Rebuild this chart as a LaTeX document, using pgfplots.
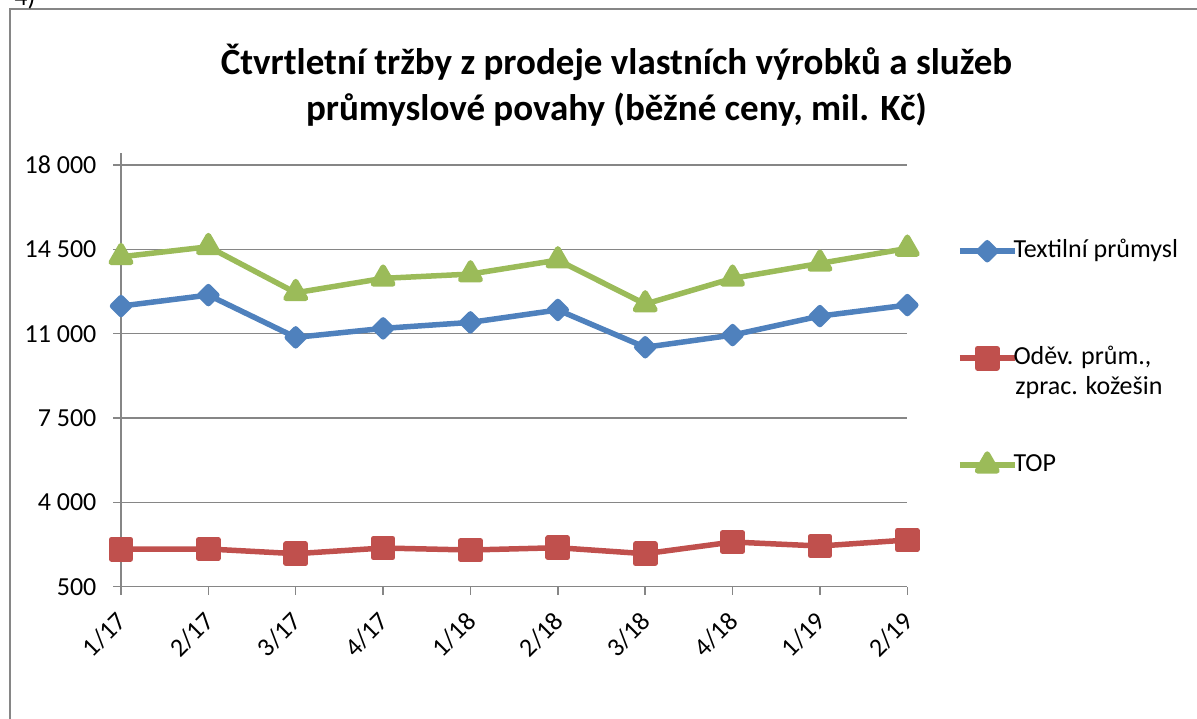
\documentclass[border=0pt]{standalone}
\usepackage{pgfplots}
\pgfplotsset{compat=1.18}
\usepackage{fontspec}
\setmainfont{Carlito}
\definecolor{cblue}{HTML}{4F81BD}
\definecolor{cred}{HTML}{C0504D}
\definecolor{cgreen}{HTML}{9BBB59}
\definecolor{cgrid}{HTML}{868686}
\newcommand{\fs}{\fontsize{13}{15.6}\selectfont}
\tikzset{
  xl/.style={font=\fs, rotate=45, anchor=base east, inner sep=0pt},
  yl/.style={font=\fs, anchor=base east, inner sep=0pt},
}
\begin{document}
\begin{tikzpicture}
\path[use as bounding box] (0,0) rectangle (598.5pt,359pt);
\draw[cgrid, line width=1pt] (5pt,-2pt) -- (5pt,354.5pt) -- (600pt,354.5pt);
\node[anchor=base west, font=\fs, inner sep=0pt] at (7pt,356pt) {4)};
\node[anchor=base, font=\fontsize{18.5}{23}\selectfont\bfseries, inner sep=0pt] at (308.25pt,321.5pt) {Čtvrtletní tržby z prodeje vlastních výrobků a služeb};
\node[anchor=base, font=\fontsize{18.5}{23}\selectfont\bfseries, inner sep=0pt] at (308.25pt,298.5pt) {průmyslové povahy (běžné ceny, mil. Kč)};
\node[anchor=base west, font=\fs, inner sep=0pt] at (507.5pt,162pt) {zprac. kožešin};
\begin{axis}[
  at={(60.5pt,65.65pt)}, anchor=south west,
  scale only axis, width=393.15pt, height=216.85pt,
  xmin=0, xmax=9, ymin=500, ymax=18500,
  scaled y ticks=false,
  xtick={0,...,9}, xticklabels={},
  ytick={500,4000,7500,11000,14500,18000}, yticklabels={},
  axis lines=left,
  axis line style={-, cgrid, line width=0.75pt},
  ymajorgrids, grid style={cgrid, line width=0.75pt},
  tick align=outside, major tick length=4pt,
  tick style={cgrid, line width=0.75pt},
  clip=false,
  legend cell align=left,
  legend style={at={(1.0632,0.8058)}, anchor=north west, draw=none, fill=none,
    inner sep=0pt, outer sep=0pt, row sep=40.5pt, column sep=-2pt,
    font=\fs,
    nodes={inner sep=0pt, text height=10pt, text depth=3pt}, cells={anchor=base west}},
  legend image code/.code={\draw[mark repeat=2, mark phase=2] plot coordinates {(0pt,3pt) (13.75pt,3pt) (27.5pt,3pt)};},
]
\addplot[cblue, line width=2.75pt, line join=round, mark=square*, mark size=3pt,
  mark options={solid, rotate=45, fill=cblue, draw=none}]
  coordinates {(0,12147) (1,12603) (2,10848) (3,11221) (4,11470) (5,11986) (6,10437) (7,10943) (8,11732) (9,12188)};
\addlegendentry{Textilní průmysl}
\addplot[cred, line width=2.75pt, line join=round, mark=square*, mark size=4.8pt,
  mark options={solid, fill=cred, draw=none}]
  coordinates {(0,2056) (1,2065) (2,1870) (3,2106) (4,2023) (5,2118) (6,1870) (7,2355) (8,2189) (9,2438)};
\addlegendentry{Oděv. prům.,}
\addplot[cgreen, line width=2.75pt, line join=round, mark=triangle*, mark size=5.6pt,
  mark options={solid, fill=cgreen, draw=none}]
  coordinates {(0,14193) (1,14608) (2,12699) (3,13297) (4,13475) (5,14056) (6,12230) (7,13297) (8,13919) (9,14540)};
\addlegendentry{TOP}
\node[xl] at ([xshift=3.65pt,yshift=-18pt]axis cs:0,500) {1/17};
\node[xl] at ([xshift=3.65pt,yshift=-18pt]axis cs:1,500) {2/17};
\node[xl] at ([xshift=3.65pt,yshift=-18pt]axis cs:2,500) {3/17};
\node[xl] at ([xshift=3.65pt,yshift=-18pt]axis cs:3,500) {4/17};
\node[xl] at ([xshift=3.65pt,yshift=-18pt]axis cs:4,500) {1/18};
\node[xl] at ([xshift=3.65pt,yshift=-18pt]axis cs:5,500) {2/18};
\node[xl] at ([xshift=3.65pt,yshift=-18pt]axis cs:6,500) {3/18};
\node[xl] at ([xshift=3.65pt,yshift=-18pt]axis cs:7,500) {4/18};
\node[xl] at ([xshift=3.65pt,yshift=-18pt]axis cs:8,500) {1/19};
\node[xl] at ([xshift=3.65pt,yshift=-18pt]axis cs:9,500) {2/19};
\node[yl] at ([xshift=-12.1pt,yshift=-4.15pt]axis cs:0,500) {500};
\node[yl] at ([xshift=-12.1pt,yshift=-4.15pt]axis cs:0,4000) {4 000};
\node[yl] at ([xshift=-12.1pt,yshift=-4.15pt]axis cs:0,7500) {7 500};
\node[yl] at ([xshift=-12.1pt,yshift=-4.15pt]axis cs:0,11000) {11 000};
\node[yl] at ([xshift=-12.1pt,yshift=-4.15pt]axis cs:0,14500) {14 500};
\node[yl] at ([xshift=-12.1pt,yshift=-4.15pt]axis cs:0,18000) {18 000};
\end{axis}
\end{tikzpicture}
\end{document}
